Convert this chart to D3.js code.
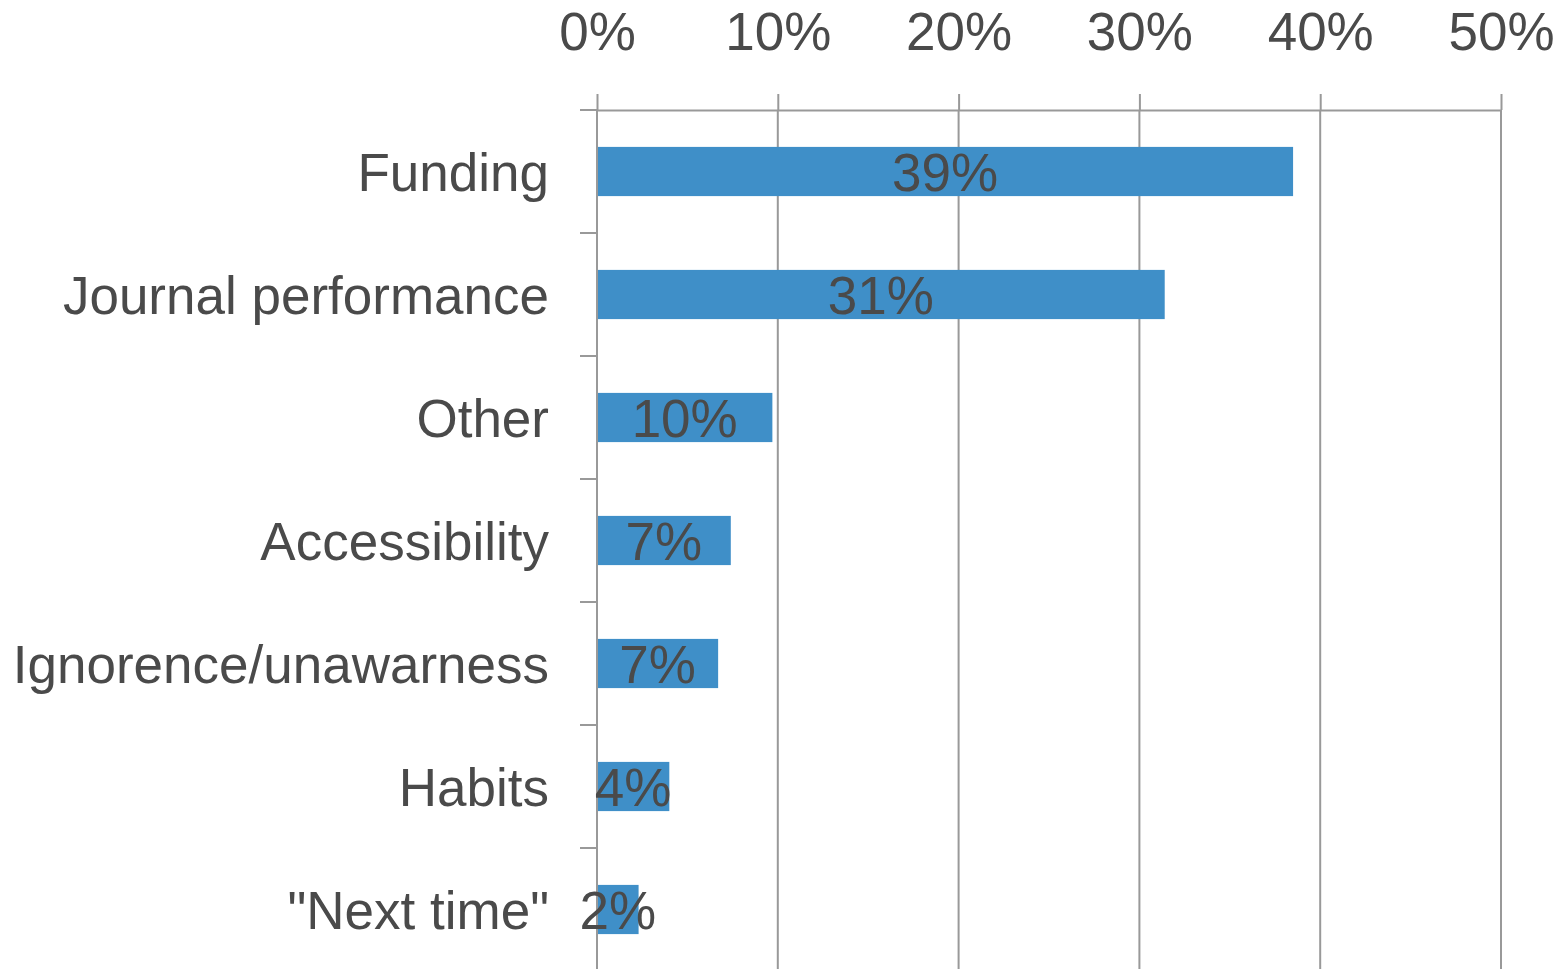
<!DOCTYPE html>
<html>
<head>
<meta charset="utf-8">
<script src="https://cdn.jsdelivr.net/npm/d3@7"></script>
<style>
  body { margin: 0; background: #fff; }
  svg { display: block; }
</style>
</head>
<body>
<div id="chart"></div>
<script>
// datos
const categories = ["Funding", "Journal performance", "Other", "Accessibility",
  "Ignorence/unawarness", "Habits", "\"Next time\""];
const values = [38.5, 31.4, 9.7, 7.4, 6.7, 4.0, 2.3];
const tickValues = [0, 10, 20, 30, 40, 50];

const width = 1558;
const height = 969;
const margin = { top: 110, right: 57, bottom: -2, left: 597 };
const innerWidth = width - margin.left - margin.right;
const innerHeight = height - margin.top - margin.bottom;

const textColor = "#4a4a4a";
const lineColor = "#999999";
const font = "'Liberation Sans', Arial, sans-serif";
const fontSize = "53px";

const data = categories.map((c, i) => ({ cat: c, value: values[i] }));

const svg = d3.select("#chart")
  .append("svg")
  .attr("width", width)
  .attr("height", height);

const g = svg.append("g")
  .attr("transform", `translate(${margin.left},${margin.top})`);

const xScale = d3.scaleLinear()
  .domain([0, 50])
  .range([0, innerWidth]);

const yScale = d3.scaleBand()
  .domain(categories)
  .range([0, innerHeight])
  .paddingInner(0.6)
  .paddingOuter(0.3);

// lineas verticales de la cuadricula
g.append("g")
  .selectAll("line")
  .data(tickValues)
  .enter()
  .append("line")
  .attr("x1", (d) => xScale(d))
  .attr("x2", (d) => xScale(d))
  .attr("y1", 0)
  .attr("y2", innerHeight)
  .attr("stroke", lineColor)
  .attr("stroke-width", 2);

// eje superior
const xAxis = d3.axisTop(xScale)
  .tickValues(tickValues)
  .tickFormat((d) => d + "%")
  .tickSize(16)
  .tickSizeOuter(0)
  .tickPadding(44);

const xAxisG = g.append("g").call(xAxis);
xAxisG.select(".domain").attr("stroke", lineColor).attr("stroke-width", 2);
xAxisG.selectAll(".tick line").attr("stroke", lineColor).attr("stroke-width", 2);
xAxisG.selectAll("text")
  .attr("fill", textColor)
  .style("font-family", font)
  .style("font-size", fontSize);

// marcas del eje izquierdo en los limites de cada banda
const step = yScale.step();
const bounds = d3.range(categories.length + 1).map((i) => yScale(categories[0]) - (step - yScale.bandwidth()) / 2 + i * step);
g.append("g")
  .selectAll("line")
  .data(bounds)
  .enter()
  .append("line")
  .attr("x1", -17)
  .attr("x2", 0)
  .attr("y1", (d) => d)
  .attr("y2", (d) => d)
  .attr("stroke", lineColor)
  .attr("stroke-width", 2);

// barras
g.append("g")
  .selectAll("rect")
  .data(data)
  .enter()
  .append("rect")
  .attr("x", xScale(0) + 1)
  .attr("y", (d) => yScale(d.cat))
  .attr("width", (d) => xScale(d.value) - xScale(0) - 1)
  .attr("height", yScale.bandwidth())
  .attr("fill", "#3f8fc8");

// etiquetas de valores
g.append("g")
  .selectAll("text")
  .data(data)
  .enter()
  .append("text")
  .attr("x", (d) => (xScale(0) + xScale(d.value)) / 2)
  .attr("y", (d) => yScale(d.cat) + yScale.bandwidth() / 2)
  .attr("dy", "0.36em")
  .attr("text-anchor", "middle")
  .attr("fill", textColor)
  .style("font-family", font)
  .style("font-size", fontSize)
  .text((d) => Math.round(d.value) + "%");

// etiquetas de categorias
g.append("g")
  .selectAll("text")
  .data(data)
  .enter()
  .append("text")
  .attr("x", -48)
  .attr("y", (d) => yScale(d.cat) + yScale.bandwidth() / 2)
  .attr("dy", "0.36em")
  .attr("text-anchor", "end")
  .attr("fill", textColor)
  .style("font-family", font)
  .style("font-size", fontSize)
  .text((d) => d.cat);
</script>
</body>
</html>
